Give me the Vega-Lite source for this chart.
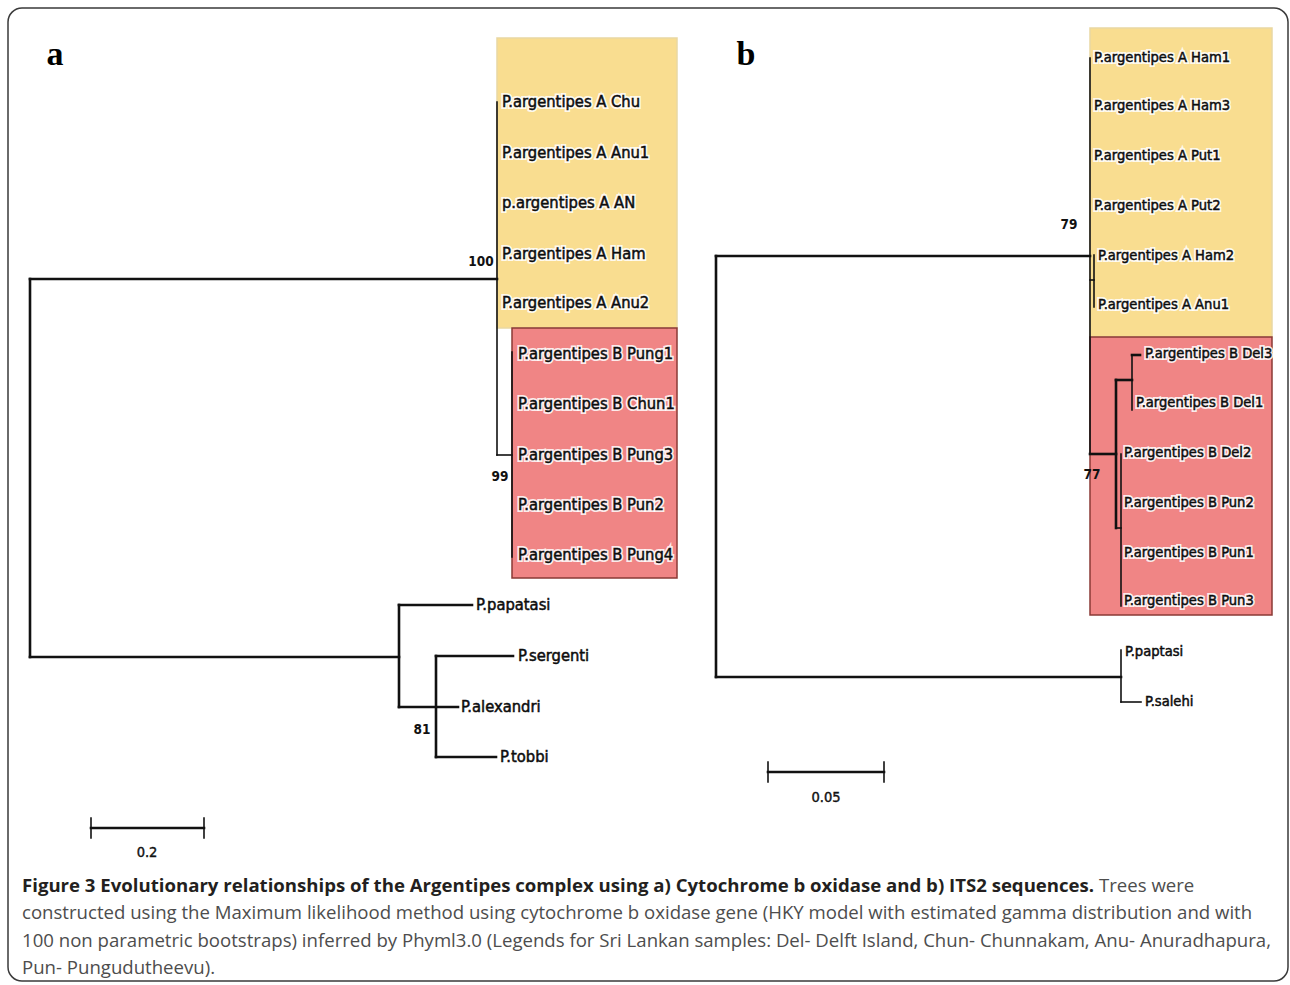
{
  "$schema": "https://vega.github.io/schema/vega-lite/v6.json",
  "width": 1290,
  "height": 985,
  "autosize": "none",
  "padding": 0,
  "background": "white",
  "config": {"view": {"stroke": null}},
  "datasets": {
    "frame": [{"x": 8, "x2": 1288, "y": 8, "y2": 981}],
    "boxes": [
      {"clade": "A", "x": 497, "x2": 677, "y": 38, "y2": 328},
      {"clade": "B", "x": 512, "x2": 677, "y": 328, "y2": 578},
      {"clade": "A", "x": 1090, "x2": 1272, "y": 28, "y2": 337},
      {"clade": "B", "x": 1090, "x2": 1272, "y": 337, "y2": 615}
    ],
    "branches": [
      {"w": "thick", "x": 30, "x2": 30, "y": 279, "y2": 657},
      {"w": "thick", "x": 30, "x2": 497, "y": 279, "y2": 279},
      {"w": "thin", "x": 497, "x2": 497, "y": 102, "y2": 455},
      {"w": "thin", "x": 497, "x2": 512, "y": 455, "y2": 455},
      {"w": "thin", "x": 512, "x2": 512, "y": 352, "y2": 557},
      {"w": "thick", "x": 30, "x2": 399, "y": 657, "y2": 657},
      {"w": "thick", "x": 399, "x2": 399, "y": 605, "y2": 707},
      {"w": "thick", "x": 399, "x2": 472, "y": 605, "y2": 605},
      {"w": "thick", "x": 399, "x2": 458, "y": 707, "y2": 707},
      {"w": "thick", "x": 436, "x2": 436, "y": 656, "y2": 757},
      {"w": "thick", "x": 436, "x2": 513, "y": 656, "y2": 656},
      {"w": "thick", "x": 436, "x2": 496, "y": 757, "y2": 757},
      {"w": "thick", "x": 91, "x2": 204, "y": 828, "y2": 828},
      {"w": "thin", "x": 91, "x2": 91, "y": 818, "y2": 838},
      {"w": "thin", "x": 204, "x2": 204, "y": 818, "y2": 838},
      {"w": "thick", "x": 716, "x2": 716, "y": 256, "y2": 677},
      {"w": "thick", "x": 716, "x2": 1090, "y": 256, "y2": 256},
      {"w": "thin", "x": 1090, "x2": 1090, "y": 58, "y2": 454},
      {"w": "thin", "x": 1090, "x2": 1094, "y": 280, "y2": 280},
      {"w": "thin", "x": 1094, "x2": 1094, "y": 255, "y2": 307},
      {"w": "thick", "x": 1090, "x2": 1116, "y": 454, "y2": 454},
      {"w": "thick", "x": 1116, "x2": 1116, "y": 380, "y2": 528},
      {"w": "thick", "x": 1116, "x2": 1132, "y": 380, "y2": 380},
      {"w": "thin", "x": 1132, "x2": 1132, "y": 355, "y2": 410},
      {"w": "thick", "x": 1132, "x2": 1140, "y": 355, "y2": 355},
      {"w": "thin", "x": 1116, "x2": 1121, "y": 528, "y2": 528},
      {"w": "thin", "x": 1121, "x2": 1121, "y": 454, "y2": 606},
      {"w": "thick", "x": 716, "x2": 1121, "y": 677, "y2": 677},
      {"w": "thin", "x": 1121, "x2": 1121, "y": 650, "y2": 702},
      {"w": "thin", "x": 1121, "x2": 1141, "y": 702, "y2": 702},
      {"w": "thick", "x": 768, "x2": 884, "y": 772, "y2": 772},
      {"w": "thin", "x": 768, "x2": 768, "y": 762, "y2": 782},
      {"w": "thin", "x": 884, "x2": 884, "y": 762, "y2": 782}
    ],
    "tips": [
      {"panel": "a", "x": 502, "y": 102, "name": "P.argentipes A Chu"},
      {"panel": "a", "x": 502, "y": 153, "name": "P.argentipes A Anu1"},
      {"panel": "a", "x": 502, "y": 203, "name": "p.argentipes A AN"},
      {"panel": "a", "x": 502, "y": 254, "name": "P.argentipes A Ham"},
      {"panel": "a", "x": 502, "y": 303, "name": "P.argentipes A Anu2"},
      {"panel": "a", "x": 518, "y": 354, "name": "P.argentipes B Pung1"},
      {"panel": "a", "x": 518, "y": 404, "name": "P.argentipes B Chun1"},
      {"panel": "a", "x": 518, "y": 455, "name": "P.argentipes B Pung3"},
      {"panel": "a", "x": 518, "y": 505, "name": "P.argentipes B Pun2"},
      {"panel": "a", "x": 518, "y": 555, "name": "P.argentipes B Pung4"},
      {"panel": "a", "x": 476, "y": 605, "name": "P.papatasi"},
      {"panel": "a", "x": 518, "y": 656, "name": "P.sergenti"},
      {"panel": "a", "x": 461, "y": 707, "name": "P.alexandri"},
      {"panel": "a", "x": 500, "y": 757, "name": "P.tobbi"},
      {"panel": "b", "x": 1094, "y": 58, "name": "P.argentipes A Ham1"},
      {"panel": "b", "x": 1094, "y": 106, "name": "P.argentipes A Ham3"},
      {"panel": "b", "x": 1094, "y": 156, "name": "P.argentipes A Put1"},
      {"panel": "b", "x": 1094, "y": 206, "name": "P.argentipes A Put2"},
      {"panel": "b", "x": 1098, "y": 256, "name": "P.argentipes A Ham2"},
      {"panel": "b", "x": 1098, "y": 305, "name": "P.argentipes A Anu1"},
      {"panel": "b", "x": 1145, "y": 354, "name": "P.argentipes B Del3"},
      {"panel": "b", "x": 1136, "y": 403, "name": "P.argentipes B Del1"},
      {"panel": "b", "x": 1124, "y": 453, "name": "P.argentipes B Del2"},
      {"panel": "b", "x": 1124, "y": 503, "name": "P.argentipes B Pun2"},
      {"panel": "b", "x": 1124, "y": 553, "name": "P.argentipes B Pun1"},
      {"panel": "b", "x": 1124, "y": 601, "name": "P.argentipes B Pun3"},
      {"panel": "b", "x": 1125, "y": 652, "name": "P.paptasi"},
      {"panel": "b", "x": 1145, "y": 702, "name": "P.salehi"}
    ],
    "support": [
      {"kind": "bootstrap", "x": 481, "y": 262, "label": "100"},
      {"kind": "bootstrap", "x": 500, "y": 477, "label": "99"},
      {"kind": "bootstrap", "x": 422, "y": 730, "label": "81"},
      {"kind": "bootstrap", "x": 1069, "y": 225, "label": "79"},
      {"kind": "bootstrap", "x": 1092, "y": 475, "label": "77"},
      {"kind": "scale", "x": 147, "y": 853, "label": "0.2"},
      {"kind": "scale", "x": 826, "y": 798, "label": "0.05"}
    ],
    "letters": [
      {"x": 55, "y": 55, "label": "a"},
      {"x": 746, "y": 55, "label": "b"}
    ],
    "caption": [
      {"part": "bold", "x": 22, "y": 886, "text": "Figure 3 Evolutionary relationships of the Argentipes complex using a) Cytochrome b oxidase and b) ITS2 sequences."},
      {"part": "regular", "x": 1099, "y": 886, "text": "Trees were"},
      {"part": "regular", "x": 22, "y": 913, "text": "constructed using the Maximum likelihood method using cytochrome b oxidase gene (HKY model with estimated gamma distribution and with"},
      {"part": "regular", "x": 22, "y": 941, "text": "100 non parametric bootstraps) inferred by Phyml3.0 (Legends for Sri Lankan samples: Del- Delft Island, Chun- Chunnakam, Anu- Anuradhapura,"},
      {"part": "regular", "x": 22, "y": 968, "text": "Pun- Pungudutheevu)."}
    ]
  },
  "layer": [
    {
      "data": {"name": "frame"},
      "mark": {"type": "rect", "fill": null, "stroke": "#3a3a3a", "strokeWidth": 1.5, "cornerRadius": 14},
      "encoding": {
        "x": {"field": "x", "type": "quantitative", "scale": {"domain": [0, 1290], "nice": false, "zero": false}, "axis": null},
        "x2": {"field": "x2"},
        "y": {"field": "y", "type": "quantitative", "scale": {"domain": [0, 985], "reverse": true, "nice": false, "zero": false}, "axis": null},
        "y2": {"field": "y2"}
      }
    },
    {
      "data": {"name": "boxes"},
      "mark": {"type": "rect", "strokeWidth": 1.5},
      "encoding": {
        "x": {"field": "x", "type": "quantitative", "scale": {"domain": [0, 1290], "nice": false, "zero": false}, "axis": null},
        "x2": {"field": "x2"},
        "y": {"field": "y", "type": "quantitative", "scale": {"domain": [0, 985], "reverse": true, "nice": false, "zero": false}, "axis": null},
        "y2": {"field": "y2"},
        "fill": {"field": "clade", "type": "nominal", "scale": {"domain": ["A", "B"], "range": ["#f9dd90", "#f08585"]}, "legend": null},
        "stroke": {"field": "clade", "type": "nominal", "scale": {"domain": ["A", "B"], "range": ["#e9d7a2", "#8a3a36"]}, "legend": null}
      }
    },
    {
      "data": {"name": "branches"},
      "transform": [{"filter": "datum.w === 'thick'"}],
      "mark": {"type": "rule", "color": "#111111", "strokeWidth": 2.6, "strokeCap": "square"},
      "encoding": {
        "x": {"field": "x", "type": "quantitative", "scale": {"domain": [0, 1290], "nice": false, "zero": false}, "axis": null},
        "x2": {"field": "x2"},
        "y": {"field": "y", "type": "quantitative", "scale": {"domain": [0, 985], "reverse": true, "nice": false, "zero": false}, "axis": null},
        "y2": {"field": "y2"}
      }
    },
    {
      "data": {"name": "branches"},
      "transform": [{"filter": "datum.w === 'thin'"}],
      "mark": {"type": "rule", "color": "#111111", "strokeWidth": 1.6, "strokeCap": "square"},
      "encoding": {
        "x": {"field": "x", "type": "quantitative", "scale": {"domain": [0, 1290], "nice": false, "zero": false}, "axis": null},
        "x2": {"field": "x2"},
        "y": {"field": "y", "type": "quantitative", "scale": {"domain": [0, 985], "reverse": true, "nice": false, "zero": false}, "axis": null},
        "y2": {"field": "y2"}
      }
    },
    {
      "data": {"name": "tips"},
      "mark": {"type": "text", "align": "left", "baseline": "middle", "font": "DejaVu Sans Condensed, Liberation Sans", "fill": "white", "stroke": "white", "strokeWidth": 4, "strokeOpacity": 0.85},
      "encoding": {
        "x": {"field": "x", "type": "quantitative", "scale": {"domain": [0, 1290], "nice": false, "zero": false}, "axis": null},
        "y": {"field": "y", "type": "quantitative", "scale": {"domain": [0, 985], "reverse": true, "nice": false, "zero": false}, "axis": null},
        "text": {"field": "name"},
        "size": {"field": "panel", "type": "nominal", "scale": {"domain": ["a", "b"], "range": [16.4, 14.6]}, "legend": null}
      }
    },
    {
      "data": {"name": "tips"},
      "mark": {"type": "text", "align": "left", "baseline": "middle", "font": "DejaVu Sans Condensed, Liberation Sans", "color": "#0d0d0d", "stroke": "#0d0d0d", "strokeWidth": 0.5},
      "encoding": {
        "x": {"field": "x", "type": "quantitative", "scale": {"domain": [0, 1290], "nice": false, "zero": false}, "axis": null},
        "y": {"field": "y", "type": "quantitative", "scale": {"domain": [0, 985], "reverse": true, "nice": false, "zero": false}, "axis": null},
        "text": {"field": "name"},
        "size": {"field": "panel", "type": "nominal", "scale": {"domain": ["a", "b"], "range": [16.4, 14.6]}, "legend": null}
      }
    },
    {
      "data": {"name": "support"},
      "transform": [{"filter": "datum.kind === 'bootstrap'"}],
      "mark": {"type": "text", "align": "center", "baseline": "middle", "font": "DejaVu Sans Condensed, Liberation Sans", "fontSize": 13.5, "fontWeight": "bold", "color": "#111111"},
      "encoding": {
        "x": {"field": "x", "type": "quantitative", "scale": {"domain": [0, 1290], "nice": false, "zero": false}, "axis": null},
        "y": {"field": "y", "type": "quantitative", "scale": {"domain": [0, 985], "reverse": true, "nice": false, "zero": false}, "axis": null},
        "text": {"field": "label"}
      }
    },
    {
      "data": {"name": "support"},
      "transform": [{"filter": "datum.kind === 'scale'"}],
      "mark": {"type": "text", "align": "center", "baseline": "middle", "font": "DejaVu Sans Condensed, Liberation Sans", "fontSize": 14.5, "color": "#111111", "stroke": "#111111", "strokeWidth": 0.4},
      "encoding": {
        "x": {"field": "x", "type": "quantitative", "scale": {"domain": [0, 1290], "nice": false, "zero": false}, "axis": null},
        "y": {"field": "y", "type": "quantitative", "scale": {"domain": [0, 985], "reverse": true, "nice": false, "zero": false}, "axis": null},
        "text": {"field": "label"}
      }
    },
    {
      "data": {"name": "letters"},
      "mark": {"type": "text", "align": "center", "baseline": "middle", "font": "Liberation Serif, DejaVu Serif, serif", "fontSize": 34, "fontWeight": "bold", "color": "#000000"},
      "encoding": {
        "x": {"field": "x", "type": "quantitative", "scale": {"domain": [0, 1290], "nice": false, "zero": false}, "axis": null},
        "y": {"field": "y", "type": "quantitative", "scale": {"domain": [0, 985], "reverse": true, "nice": false, "zero": false}, "axis": null},
        "text": {"field": "label"}
      }
    },
    {
      "data": {"name": "caption"},
      "transform": [{"filter": "datum.part === 'bold'"}],
      "mark": {"type": "text", "align": "left", "baseline": "middle", "font": "Open Sans, sans-serif", "fontSize": 18.6, "fontWeight": "bold", "color": "#231f20"},
      "encoding": {
        "x": {"field": "x", "type": "quantitative", "scale": {"domain": [0, 1290], "nice": false, "zero": false}, "axis": null},
        "y": {"field": "y", "type": "quantitative", "scale": {"domain": [0, 985], "reverse": true, "nice": false, "zero": false}, "axis": null},
        "text": {"field": "text"}
      }
    },
    {
      "data": {"name": "caption"},
      "transform": [{"filter": "datum.part === 'regular'"}],
      "mark": {"type": "text", "align": "left", "baseline": "middle", "font": "Open Sans, sans-serif", "fontSize": 18.6, "color": "#4d4d4d"},
      "encoding": {
        "x": {"field": "x", "type": "quantitative", "scale": {"domain": [0, 1290], "nice": false, "zero": false}, "axis": null},
        "y": {"field": "y", "type": "quantitative", "scale": {"domain": [0, 985], "reverse": true, "nice": false, "zero": false}, "axis": null},
        "text": {"field": "text"}
      }
    }
  ]
}
